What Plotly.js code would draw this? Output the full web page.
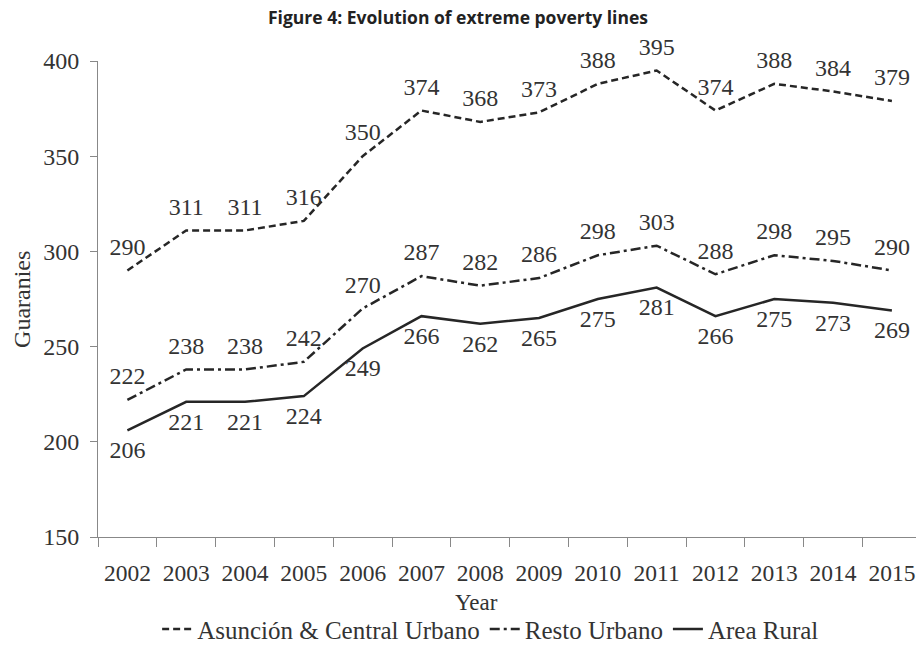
<!DOCTYPE html>
<html><head><meta charset="utf-8">
<script src="https://cdn.plot.ly/plotly-3.0.1.min.js"></script>
<style>html,body{margin:0;padding:0;background:#fff}#chart{width:916px;height:646px}</style>
</head><body><div id="chart"></div>
<script>
const years = ["2002","2003","2004","2005","2006","2007","2008","2009","2010","2011","2012","2013","2014","2015"];
const asuncion = [290,311,311,316,350,374,368,373,388,395,374,388,384,379];
const resto = [222,238,238,242,270,287,282,286,298,303,288,298,295,290];
const rural = [206,221,221,224,249,266,262,265,275,281,266,275,273,269];
const seriesNames = ["Asunción & Central Urbano","Resto Urbano","Area Rural"];
const dashes = ["7px,4px","10px,4px,3px,4px","solid"];

const serif = "Liberation Serif, Times New Roman, serif";
const lineColor = "#262626";
function mk(name, y, dash, pos){
  return {x: years, y: y, name: name, type: "scatter", mode: "lines+markers+text",
    line: {color: lineColor, width: 2.5, dash: dash},
    marker: {size: 14, opacity: 0, color: lineColor},
    text: y.map(String), textposition: pos,
    textfont: {family: serif, size: 24, color: "#333"},
    hoverinfo: "skip", cliponaxis: false, showlegend: false};
}
function leg(name, dash){
  return {x: [null], y: [null], name: name, type: "scatter", mode: "lines",
    line: {color: lineColor, width: 2.5, dash: dash}, hoverinfo: "skip"};
}
const data = [
  mk(seriesNames[0], asuncion, dashes[0], "top center"),
  mk(seriesNames[1], resto, dashes[1], "top center"),
  mk(seriesNames[2], rural, dashes[2], "bottom center"),
  leg(seriesNames[0], dashes[0]), leg(seriesNames[1], dashes[1]), leg(seriesNames[2], dashes[2])
];
const layout = {
  width: 916, height: 646,
  margin: {l: 98, r: 0, t: 61, b: 109, autoexpand: false},
  paper_bgcolor: "#fff", plot_bgcolor: "#fff",
  showlegend: true,
  title: {text: "<b>Figure 4: Evolution of extreme poverty lines</b>", x: 0.5, xanchor: "center", y: 0.972, yanchor: "middle",
    font: {family: "Open Sans, DejaVu Sans, sans-serif", size: 17.5, color: "#222"}},
  xaxis: {type: "category", range: [-0.5, 13.41], tickson: "boundaries", ticks: "outside", ticklen: 9, tickcolor: "#888",
    showline: true, linecolor: "#888", linewidth: 1, showgrid: false, zeroline: false, ticklabelstandoff: 15,
    tickfont: {family: serif, size: 23.5, color: "#333"}},
  yaxis: {range: [150, 400], tickvals: [150,200,250,300,350,400], ticks: "outside", ticklen: 7, tickcolor: "#888",
    showline: true, linecolor: "#888", linewidth: 1, showgrid: false, zeroline: false, ticklabelstandoff: 6,
    tickfont: {family: serif, size: 24, color: "#333"}},
  annotations: [
    {text: "Year", xref: "paper", yref: "paper", x: 0.463, y: -0.1366, xanchor: "center", yanchor: "middle",
      showarrow: false, font: {family: serif, size: 23, color: "#333"}},
    {text: "Guaranies", xref: "paper", yref: "paper", x: -0.093, y: 0.5, xanchor: "center", yanchor: "middle",
      textangle: -90, showarrow: false, font: {family: serif, size: 24, color: "#333"}}
  ],
  legend: {orientation: "h", x: 0.48, xanchor: "center", yref: "container", y: 0.026, yanchor: "middle",
    font: {family: serif, size: 25, color: "#333"}, itemwidth: 30, tracegroupgap: 0, traceorder: "normal"}
};
Plotly.newPlot("chart", data, layout, {displayModeBar: false, staticPlot: true});
</script></body></html>
